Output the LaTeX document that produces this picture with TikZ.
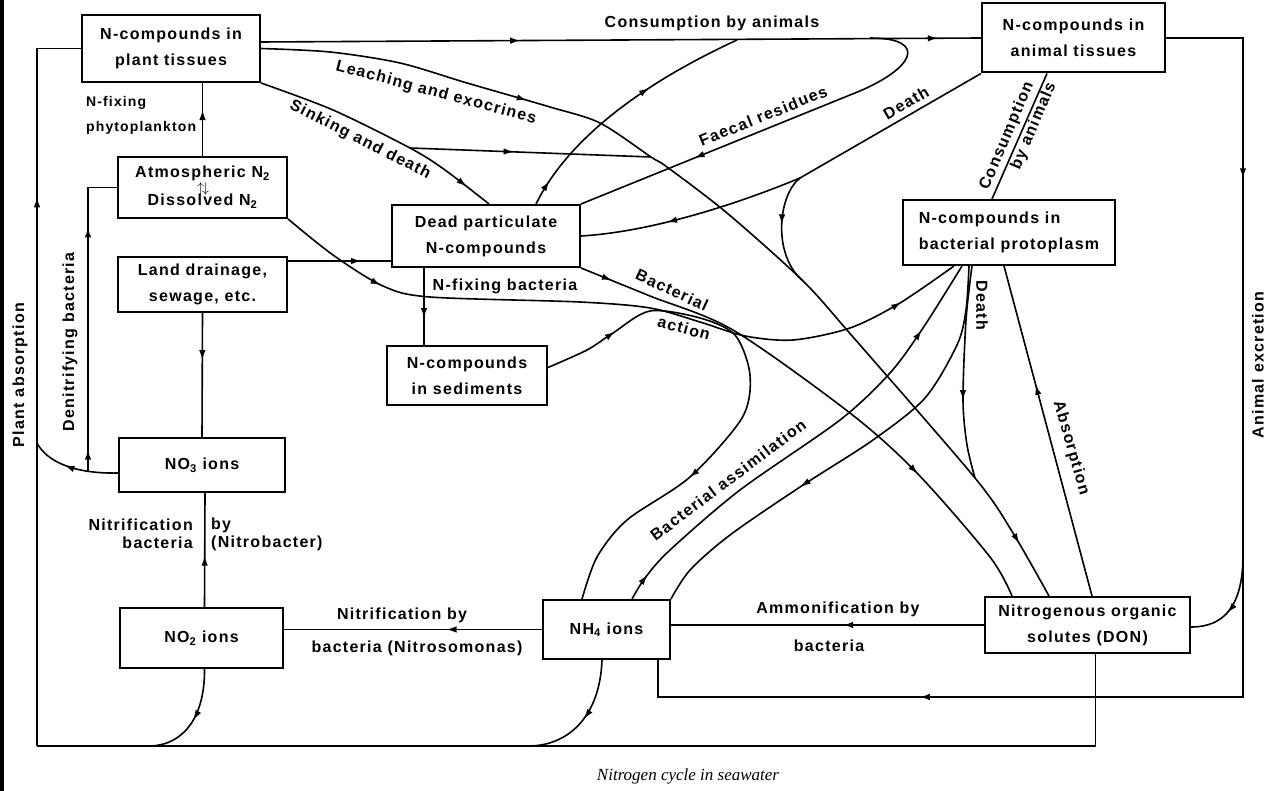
\documentclass[tikz,border=0pt]{standalone}
\usepackage{fontspec}
\setmainfont{Liberation Sans}[LetterSpace=8]
\newfontfamily\capfont{Liberation Serif}
\usetikzlibrary{arrows.meta,decorations.markings,calc}
\newcommand\labfont{\fontsize{16}{26}\selectfont\bfseries}
\newcommand\smlabfont{\fontsize{14}{25}\selectfont\bfseries}
\tikzset{
  mytip/.tip={Latex[length=10pt,width=6.5pt]},
  box/.style={draw,line width=2pt,inner sep=0pt,align=center,font=\labfont},
  lbl/.style={inner sep=0pt,font=\labfont,align=center},
  ln/.style={line width=1.6pt},
  ar/.style={ln,postaction={decorate},decoration={markings,mark=at position #1 with {\arrow{mytip}}}},
  arr/.style 2 args={ln,postaction={decorate},decoration={markings,mark=at position #1 with {\arrow{mytip}},mark=at position #2 with {\arrow{mytip}}}},
}
\begin{document}
\begin{tikzpicture}[x=1pt,y=-1pt]
\fill[white] (0,0) rectangle (1267,791);
\useasboundingbox (0,0) rectangle (1267,791);
\fill[black] (0,0) rectangle (4,791);

% boxes
\node[box,minimum width=178pt,minimum height=67pt] (plant) at (171,48.5) {N-compounds in\\plant tissues};
\node[box,minimum width=183pt,minimum height=69pt] (animal) at (1073.5,38) {N-compounds in\\animal tissues};
\node[box,minimum width=169pt,minimum height=61pt] (atm) at (202.5,187.5) {Atmospheric N\textsubscript{2}\\[2pt]Dissolved N\textsubscript{2}};
\node[inner sep=0pt,font=\fontsize{14}{14}\selectfont] (atmarr) at (203,189) {$\uparrow\!\downarrow$};
\node[box,minimum width=169pt,minimum height=55pt] (land) at (202.5,284.5) {Land drainage,\\sewage, etc.};
\node[box,minimum width=166pt,minimum height=54pt] (no3) at (202,465) {NO\textsubscript{3} ions};
\node[box,minimum width=163pt,minimum height=60pt] (no2) at (201.5,638) {NO\textsubscript{2} ions};
\node[box,minimum width=188pt,minimum height=62pt] (dead) at (486,236) {Dead particulate\\N-compounds};
\node[box,minimum width=160pt,minimum height=59pt] (sed) at (467,375.5) {N-compounds\\in sediments};
\node[box,minimum width=127pt,minimum height=59pt] (nh4) at (606.5,629.5) {NH\textsubscript{4} ions};
\node[box,minimum width=205pt,minimum height=56pt] (don) at (1087.5,625) {Nitrogenous organic\\solutes (DON)};
\node[box,align=left,minimum width=212pt,minimum height=65pt] (bact) at (1009,232.5) {N-compounds in\\bacterial protoplasm};

% coordinates
\coordinate (BL) at (37,746);
\coordinate (PA) at (37,443);
\coordinate (jN) at (88,471.5);
\coordinate (J1) at (737,40);
\coordinate (F0) at (870,38);
\coordinate (jA) at (800,178);
\coordinate (jL) at (803,281);
\coordinate (jB) at (975,478);
\coordinate (jS) at (410,148);
\coordinate (jH) at (651,157);
\coordinate (jE) at (1243,555);
\coordinate (xr) at (1243,697);
\coordinate (b2) at (150,746);
\coordinate (b4) at (530,746);
\coordinate (pT) at ($(plant.north east)+(0,28)$);
\coordinate (dL) at ($(don.north west)+(65,0)$);
\coordinate (dA) at ($(don.north west)+(28,0)$);
\coordinate (dB) at ($(don.north west)+(108,0)$);
\coordinate (dS) at ($(dead.north west)+(98,0)$);
\coordinate (dC) at ($(dead.north west)+(145,0)$);
\coordinate (ds) at ($(dead.south west)+(33,0)$);
\coordinate (ld) at ($(land.north east)+(0,5)$);
\coordinate (n3) at ($(no3.west)+(0,8)$);
\coordinate (nb) at ($(nh4.south east)+(-13,0)$);
\coordinate (nA) at ($(nh4.north west)+(40,0)$);
\coordinate (nM) at ($(nh4.north west)+(90,0)$);
\coordinate (sE) at ($(sed.east)+(0,-8)$);
\coordinate (bN) at ($(bact.south west)+(52,0)$);
\coordinate (bM) at ($(bact.south west)+(60,0)$);
\coordinate (bR) at ($(bact.south west)+(67,0)$);
\coordinate (bD) at ($(bact.south west)+(70,0)$);
\coordinate (bB) at ($(bact.south west)+(102,0)$);
\coordinate (bT) at ($(bact.north west)+(90,0)$);
\coordinate (aB) at ($(animal.south west)+(66,0)$);

% connectors
\draw[arr={0.36}{0.94}] (pT) -- (animal.west);
\draw[arr={0.1}{0.62}] (dC) .. controls (570,135) and (650,80) .. (J1);
\draw[ar=0.7] (F0) .. controls (930,38) and (915,70) .. (850,95) -- (dead.north east);
\draw[ar=0.8] (animal.south west) -- (jA) .. controls (735,205) and (650,232) .. (dead.east);
\draw[ar=0.45] (jA) .. controls (778,195) and (772,255) .. (jL);
\draw[arr={0.27}{0.94}] plot[smooth] coordinates {(plant.east) (330,52) (400,63) (467,83) (550,107) (600,123) (jH) (667,167) (727,213) (jL) (853,337) (jB) (1013,533) (dL)};
\draw[ar=0.89] plot[smooth] coordinates {(plant.south east) (333,110) (jS) (445,170) (dS)};
\draw[ar=0.43] (jS) -- (jH);
\draw[ar=0.63] (atm.north) -- (atm.north |- plant.south);
\draw[ar=0.38] (land.south) -- (no3.north);
\draw[ar=0.71] (ld) -- (ld -| dead.west);
\draw[ar=0.6] (n3) .. controls (75,474) and (47,462) .. (PA);
\draw[arr={0.07}{0.78}] (jN) |- (atm.west);
\draw[ar=0.45] ($(no2.north)+(3,0)$) -- ($(no3.south)+(3,0)$);
\draw[ar=0.5] ($(no2.south)+(3,0)$) .. controls (205,715) and (185,745) .. (b2);
\draw[ar=0.37] (nh4.west) -- (nh4.west -| no2.east);
\draw[ar=0.45] (don.west) -- (don.west -| nh4.east);
\draw[ar=0.5] ($(nh4.south west)+(60,0)$) .. controls (600,715) and (570,745) .. (b4);
\draw[ln] ($(don.south)+(8,0)$) |- (BL);
\draw[ar=0.74] (BL) |- (plant.west);
\draw[arr={0.16}{0.78}] (animal.east) -| (xr) -| (nb);
\draw[ar=0.6] (jE) .. controls (1243,605) and (1225,627) .. ($(don.east)+(0,2)$);
\draw[ar=0.65] (ds) -- (ds |- sed.north);
\draw[arr={0.06}{0.72}] plot[smooth] coordinates {(dead.south east) (650,296) (733,330) (850,413) (917,473) (990,557) (dA)};
\draw[arr={0.16}{0.91}] plot[smooth] coordinates {(atm.south east) (333,255) (383,286) (430,297) (580,302) (650,308) (700,322) (745,336) (793,340) (850,328) (900,303) (bN)};
\draw[arr={0.14}{0.69}] plot[smooth] coordinates {(sE) (587,350) (613,333) (650,311) (700,318) (735,335) (750,375) (742,418) (690,477) (627,520) (597,557) (nA)};
\draw[arr={0.06}{0.84}] plot[smooth] coordinates {(nM) (645,578) (670,550) (740,490) (840,420) (890,373) (923,328) (bM)};
\draw[ar=0.63] plot[smooth] coordinates {(bR) (966,310) (957,345) (925,398) (873,440) (800,487) (730,535) (690,570) (nh4.north east)};
\draw[ar=0.63] plot[smooth] coordinates {(bD) (966,320) (963,400) (967,445) (jB)};
\draw[ar=0.64] (dB) -- (bB);
\draw[ln] (bT) -- (aB);

% labels
\node[lbl] (tCons) at (712,23) {Consumption by animals};
\node[lbl,rotate=-15] (tLeach) at (436,93) {Leaching and exocrines};
\node[lbl,rotate=-27] (tSink) at (360,140) {Sinking and death};
\node[lbl,rotate=22] (tFaecal) at (763,116) {Faecal residues};
\node[lbl,rotate=30] (tDeathA) at (906,103) {Death};
\node[lbl,rotate=67] (tCons2) at (1007,136) {Consumption};
\node[lbl,rotate=67] (tCons3) at (1034,126) {by animals};
\node[inner sep=0pt,font=\smlabfont,align=left,anchor=west] (tNfp) at (86,115) {N-fixing\\phytoplankton};
\node[lbl,rotate=90] (tDen) at (70,342) {Denitrifying bacteria};
\node[lbl,rotate=90] (tPlant) at (20,375) {Plant absorption};
\node[lbl,anchor=east] (tNit1) at (193,525) {Nitrification};
\node[lbl,anchor=west] (tBy1) at (211,525) {by};
\node[lbl,anchor=east] (tBac1) at (193,543) {bacteria};
\node[lbl,anchor=west] (tNb) at (211,543) {(Nitrobacter)};
\node[lbl] (tNit2) at (402,615) {Nitrification by};
\node[lbl] (tNit3) at (417,648) {bacteria (Nitrosomonas)};
\node[lbl] (tAmm) at (838,609) {Ammonification by};
\node[lbl] (tAmm2) at (829,646) {bacteria};
\node[lbl] (tNfb) at (505,286) {N-fixing bacteria};
\node[lbl,rotate=-25] (tBa) at (672,290) {Bacterial};
\node[lbl,rotate=-15] (tAc) at (684,328) {action};
\node[lbl,rotate=37] (tAss) at (728,480) {Bacterial assimilation};
\node[lbl,rotate=-90] (tDeathB) at (982,305) {Death};
\node[lbl,rotate=-74] (tAbs) at (1071,448) {Absorption};
\node[lbl,rotate=90] (tAnim) at (1258,365) {Animal excretion};
\node[inner sep=0pt,font=\capfont\itshape\fontsize{17}{20}\selectfont] (cap) at (688,776) {Nitrogen cycle in seawater};
\end{tikzpicture}
\end{document}
